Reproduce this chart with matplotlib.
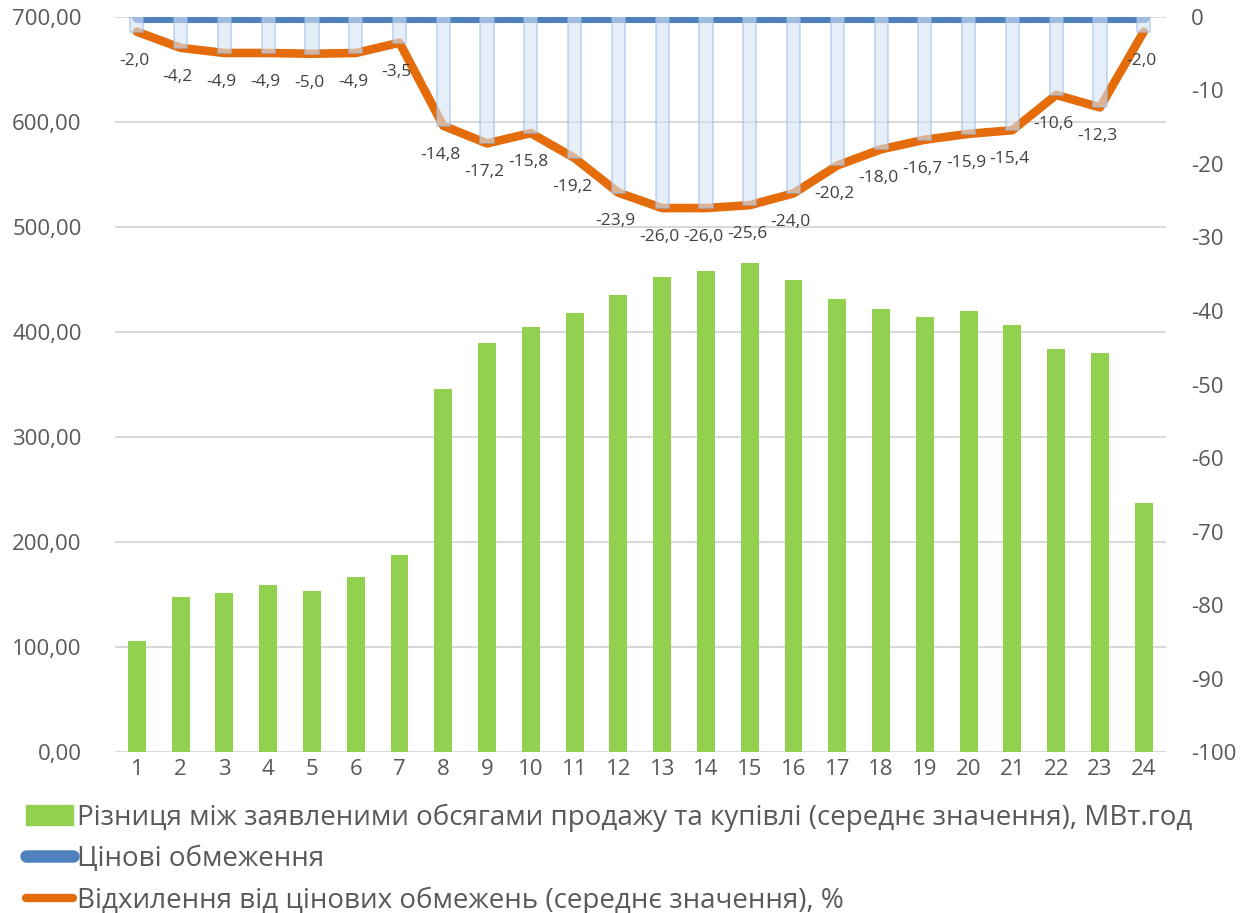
import matplotlib
matplotlib.use('Agg')
import matplotlib.pyplot as plt
from matplotlib.patches import Patch
from matplotlib.lines import Line2D

plt.rcParams['font.family'] = ['Open Sans', 'DejaVu Sans']
plt.rcParams['axes.unicode_minus'] = False

# hours 1..24
hours = list(range(1, 25))

# difference between declared sale and purchase volumes, MWh (left axis)
volume_diff = [106, 148, 151, 159, 153, 167, 188, 346, 390, 405, 418, 435,
               452, 458, 466, 450, 431, 422, 414, 420, 407, 384, 380, 237]

# price caps (right axis, always 0)
price_caps = [0] * 24

# deviation from price caps, % (right axis)
deviation = [-2.0, -4.2, -4.9, -4.9, -5.0, -4.9, -3.5, -14.8, -17.2, -15.8,
             -19.2, -23.9, -26.0, -26.0, -25.6, -24.0, -20.2, -18.0, -16.7,
             -15.9, -15.4, -10.6, -12.3, -2.0]

left_ticks = [0, 100, 200, 300, 400, 500, 600, 700]
right_ticks = [0, -10, -20, -30, -40, -50, -60, -70, -80, -90, -100]

green = '#92d050'
blue = '#4f81bd'
orange = '#e46c0a'
grey_txt = '#595959'

fig = plt.figure(figsize=(12.44, 9.13), dpi=100)
ax = fig.add_axes([0.0924, 0.1763, 0.8446, 0.8051])
ax2 = ax.twinx()

ax.bar(hours, volume_diff, width=0.41, color=green, zorder=2)
ax.set_ylim(0, 700)
ax.set_yticks(left_ticks)
ax.set_yticklabels([f'{t:.2f}'.replace('.', ',') for t in left_ticks])
ax.set_xlim(0.5, 24.5)
ax.set_xticks(hours)
ax.grid(axis='y', color='#d9d9d9', linewidth=1.5, zorder=0)
ax.set_axisbelow(True)

ax2.set_ylim(-100, 0)
ax2.set_yticks(right_ticks)
ax2.plot(hours, price_caps, color=blue, linewidth=8, solid_capstyle='round', zorder=2)
ax2.plot(hours, deviation, color=orange, linewidth=6.2, solid_capstyle='round',
         solid_joinstyle='round', zorder=3)
ax2.bar(hours, deviation, width=0.3, color='#d5e3f5', alpha=0.6,
        edgecolor='#9dbde6', linewidth=1.2, zorder=4)

for h, d in zip(hours, deviation):
    ax2.annotate(f'{d:.1f}'.replace('.', ','), (h, d), xytext=(-2, -15),
                 textcoords='offset points', ha='center', va='top',
                 fontsize=12.5, color='#404040', zorder=5)

for a in (ax, ax2):
    for s in a.spines.values():
        s.set_visible(False)
    a.tick_params(length=0, labelsize=16, colors=grey_txt)
ax.tick_params(axis='y', pad=24)
ax2.tick_params(axis='y', pad=18)
ax.tick_params(axis='x', pad=5)

handles = [Patch(color=green),
           Line2D([0], [0], color=blue, linewidth=9, solid_capstyle='round'),
           Line2D([0], [0], color=orange, linewidth=6, solid_capstyle='round')]
labels = ['Різниця між заявленими обсягами продажу та купівлі (середнє значення), МВт.год',
          'Цінові обмеження',
          'Відхилення від цінових обмежень (середнє значення), %']
fig.legend(handles, labels, loc='upper left', bbox_to_anchor=(0.021, 0.12),
           frameon=False, fontsize=20, labelcolor=grey_txt, handlelength=1.7,
           handleheight=0.75, handletextpad=0.12, labelspacing=0.48,
           borderaxespad=0, borderpad=0)

fig.savefig('out.png', dpi=100)
